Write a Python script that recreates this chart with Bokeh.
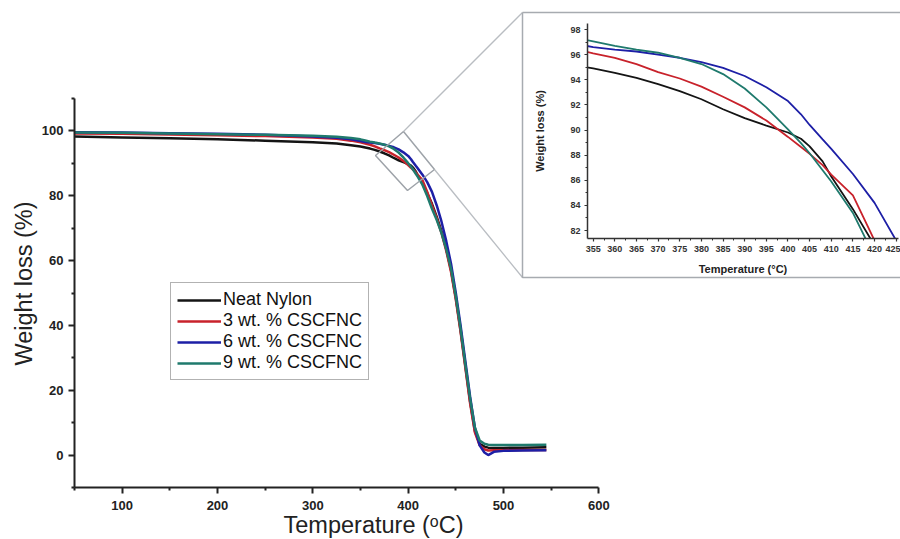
import math
from bokeh.plotting import figure
from bokeh.models import (Range1d, FixedTicker, Legend, LegendItem)
from bokeh.core.properties import value
from bokeh.embed import file_html
from bokeh.resources import INLINE

# ---------------- data ----------------
temperature = [50, 100, 150, 200, 250, 300, 325, 340, 350,
               355, 360, 365, 370, 375, 380, 385, 390, 395, 400, 403, 405, 408, 410, 415, 420,
               425, 430, 435, 440, 445, 450, 455, 460, 465, 470, 475, 480, 484, 490, 500, 520, 545]

neat_nylon = [98.3, 98.0, 97.7, 97.4, 97.0, 96.5, 96.1, 95.6, 95.2,
              94.9, 94.55, 94.15, 93.65, 93.1, 92.45, 91.65, 90.95, 90.35, 89.8, 89.3, 88.7, 87.5, 86.3, 83.7, 80.8,
              77.5, 73.5, 69.0, 63.5, 57.0, 48.5, 38.5, 27.5, 16.5, 7.5, 3.5, 2.6, 2.3, 2.2, 2.2, 2.3, 2.4]

cscfnc_3 = [99.2, 99.1, 98.9, 98.7, 98.4, 98.0, 97.6, 97.0, 96.5,
            96.1, 95.75, 95.25, 94.6, 94.1, 93.45, 92.65, 91.8, 90.75, 89.45, 88.65, 88.1, 87.2, 86.45, 84.8, 81.2,
            77.0, 73.0, 68.5, 63.0, 56.5, 48.0, 38.0, 27.0, 16.0, 7.0, 3.0, 1.8, 1.4, 1.5, 1.5, 1.6, 1.6]

cscfnc_6 = [99.6, 99.5, 99.3, 99.1, 98.8, 98.3, 97.9, 97.4, 96.9,
            96.6, 96.4, 96.25, 96.0, 95.75, 95.4, 94.95, 94.3, 93.4, 92.3, 91.25, 90.4, 89.25, 88.5, 86.5, 84.2,
            81.2, 77.0, 72.0, 66.0, 59.0, 50.0, 40.0, 29.0, 18.0, 8.5, 3.0, 0.8, 0.0, 1.0, 1.3, 1.4, 1.5]

cscfnc_9 = [99.5, 99.4, 99.2, 99.0, 98.8, 98.5, 98.2, 97.8, 97.4,
            97.05, 96.7, 96.4, 96.15, 95.75, 95.25, 94.45, 93.3, 91.8, 90.05, 88.95, 88.15, 86.8, 85.9, 83.4, 79.9,
            76.0, 72.5, 68.5, 63.5, 57.5, 49.0, 39.0, 28.0, 17.5, 8.5, 4.5, 3.5, 3.2, 3.1, 3.1, 3.1, 3.2]

series_names = ["Neat Nylon", "3 wt. % CSCFNC", "6 wt. % CSCFNC", "9 wt. % CSCFNC"]
series_values = [neat_nylon, cscfnc_3, cscfnc_6, cscfnc_9]
series_colors = ["#141414", "#c8222b", "#1d1fa6", "#1f7a6d"]

main_x_ticks = [100, 200, 300, 400, 500, 600]
main_x_minor = [50, 150, 250, 350, 450, 550]
main_y_ticks = [0, 20, 40, 60, 80, 100]
main_y_minor = [-10, 10, 30, 50, 70, 90, 110]
inset_x_ticks = [355, 360, 365, 370, 375, 380, 385, 390, 395, 400, 405, 410, 415, 420, 425]
inset_x_minor = [357.5, 362.5, 367.5, 372.5, 377.5, 382.5, 387.5, 392.5, 397.5, 402.5, 407.5, 412.5, 417.5, 422.5]
inset_y_ticks = [82, 84, 86, 88, 90, 92, 94, 96, 98]
inset_y_minor = [83, 85, 87, 89, 91, 93, 95, 97]

main_x_title = "Temperature (ᵒC)"
main_y_title = "Weight loss (%)"
inset_x_title = "Temperature (°C)"
inset_y_title = "Weight loss (%)"

# ---------------- layout constants ----------------
W, H = 900, 539
FONT = "Liberation Sans"
# main frame (pixels)
FL, FR, FT, FB = 74, 900, 10, 487
X0, X1 = 50, 600
Y0, Y1 = -10, 110
SX = (598.3 - FL) / (X1 - X0)
SY = (FB - 98) / (Y1 - Y0)


def mx(px):
    return X0 + (px - FL) / SX


def my(py):
    return Y0 + (FB - py) / SY


p = figure(width=W, height=H, output_backend="svg", toolbar_location=None,
           x_range=Range1d(X0, mx(FR)), y_range=Range1d(Y0, my(FT)),
           min_border_left=FL, min_border_right=W - FR, min_border_top=FT, min_border_bottom=H - FB)
p.outline_line_color = None
p.background_fill_color = "white"
p.border_fill_color = "white"
p.xgrid.visible = False
p.ygrid.visible = False

for ax, ticks, minor, bounds, stand in ((p.xaxis[0], main_x_ticks, main_x_minor, (X0, X1), 7),
                                         (p.yaxis[0], main_y_ticks, main_y_minor, (Y0, Y1), 5)):
    ax.ticker = FixedTicker(ticks=ticks, minor_ticks=minor)
    ax.bounds = bounds
    ax.axis_line_width = 2
    ax.axis_line_color = "#222222"
    ax.major_tick_line_width = 2
    ax.major_tick_line_color = "#222222"
    ax.minor_tick_line_width = 2
    ax.minor_tick_line_color = "#222222"
    ax.major_tick_in = 0
    ax.major_tick_out = 6
    ax.minor_tick_in = 0
    ax.minor_tick_out = 3
    ax.major_label_text_font = FONT
    ax.major_label_text_font_style = "bold"
    ax.major_label_text_font_size = "13px"
    ax.major_label_text_color = "#222222"
    ax.major_label_standoff = stand

renderers = []
for name, vals, col in zip(series_names, series_values, series_colors):
    r = p.line(temperature, vals, line_color=col, line_width=2.5)
    renderers.append(r)

# zoom indicator and connectors (decoration)
rect_px = [(403, 131), (434, 169), (407, 190), (375, 155)]
p.patch([mx(a) for a, b in rect_px], [my(b) for a, b in rect_px],
        fill_color=None, line_color="#9ea3a9", line_width=1.5)
p.line([mx(403), mx(522)], [my(131), my(12)], line_color="#b9bdc2", line_width=1.3)
p.line([mx(434), mx(522)], [my(169), my(277)], line_color="#b9bdc2", line_width=1.3)
p.line([mx(522), mx(902), mx(902), mx(522), mx(522)],
       [my(12), my(12), my(277), my(277), my(12)], line_color="#a7abb0", line_width=1.5)

legend = Legend(items=[LegendItem(label=n, renderers=[r]) for n, r in zip(series_names, renderers)],
                location=(96, 107))
legend.label_text_font = FONT
legend.label_text_font_size = "18px"
legend.label_text_color = "#111111"
legend.label_height = 20
legend.glyph_height = 20
legend.glyph_width = 44
legend.label_standoff = 2
legend.spacing = 0
legend.padding = 6
legend.margin = 0
legend.border_line_color = "#666666"
legend.border_line_width = 1.5
legend.background_fill_color = "white"
legend.background_fill_alpha = 1.0
p.add_layout(legend)

# ---------------- inset ----------------
BXL, BXT, BXR, BXB = 522, 12, 900, 277   # inset figure box (pixels)
IL, IR, IT, IB = 587, 898, 23, 238        # inset frame (pixels)
ISX = (895.7 - 592.7) / 70.0
ISY = (230 - 29) / 16.0
ix0 = 355 - (592.7 - IL) / ISX
ix1 = ix0 + (IR - IL) / ISX
iy0 = 82 - (IB - 230) / ISY
iy1 = 98 + (29 - IT) / ISY

q = figure(width=BXR - BXL, height=BXB - BXT, output_backend="svg", toolbar_location=None,
           x_range=Range1d(ix0, ix1), y_range=Range1d(iy0, iy1),
           min_border_left=IL - BXL, min_border_right=BXR - IR,
           min_border_top=IT - BXT, min_border_bottom=BXB - IB)
q.outline_line_color = None
q.background_fill_alpha = 0
q.border_fill_alpha = 0
q.xgrid.visible = False
q.ygrid.visible = False
q.styles = {"position": "absolute", "left": f"{BXL}px", "top": f"{BXT}px"}
for ax, ticks, minor, stand in ((q.xaxis[0], inset_x_ticks, inset_x_minor, 4),
                                (q.yaxis[0], inset_y_ticks, inset_y_minor, 4)):
    ax.ticker = FixedTicker(ticks=ticks, minor_ticks=minor)
    ax.axis_line_width = 1.5
    ax.axis_line_color = "#333333"
    ax.major_tick_line_width = 1.2
    ax.major_tick_line_color = "#333333"
    ax.minor_tick_line_width = 1
    ax.minor_tick_line_color = "#333333"
    ax.major_tick_in = 0
    ax.major_tick_out = 3
    ax.minor_tick_in = 0
    ax.minor_tick_out = 2
    ax.major_label_text_font = FONT
    ax.major_label_text_font_style = "bold"
    ax.major_label_text_font_size = "9px"
    ax.major_label_text_color = "#333333"
    ax.major_label_standoff = stand
    ax.axis_label_text_font = FONT
    ax.axis_label_text_font_style = "bold"
    ax.axis_label_text_font_size = "11px"
    ax.axis_label_text_color = "#222222"
q.xaxis[0].axis_label = inset_x_title
q.xaxis[0].axis_label_standoff = 8
q.yaxis[0].axis_label = inset_y_title
q.yaxis[0].axis_label_standoff = 21

for vals, col in zip(series_values, series_colors):
    q.line(temperature, vals, line_color=col, line_width=1.8)

# ---------------- overlay for the main axis titles ----------------
t = figure(width=W, height=H, output_backend="svg", toolbar_location=None,
           x_range=Range1d(0, W), y_range=Range1d(0, H),
           x_axis_location=None, y_axis_location=None,
           min_border_left=0, min_border_right=0, min_border_top=0, min_border_bottom=0)
t.outline_line_color = None
t.background_fill_alpha = 0
t.border_fill_alpha = 0
t.xgrid.visible = False
t.ygrid.visible = False
t.styles = {"position": "absolute", "left": "0px", "top": "0px"}
t.text(x=[373], y=[H - 524], text=[main_x_title], text_align="center", text_baseline="middle",
       text_font=value(FONT), text_font_size="23.5px", text_color="#222222")
t.text(x=[23], y=[H - 283], text=[main_y_title], angle=math.pi / 2, text_align="center",
       text_baseline="middle", text_font=value(FONT), text_font_size="23.5px", text_color="#222222")

open("out.html", "w").write(file_html([p, q, t], INLINE))
